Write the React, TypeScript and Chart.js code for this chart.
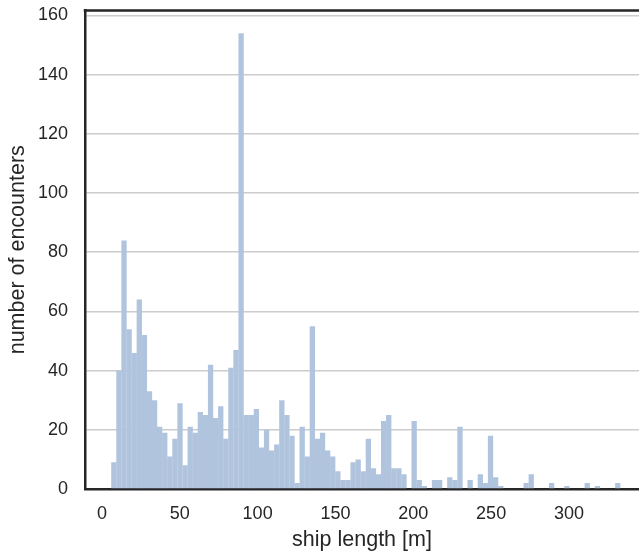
import React, { useEffect, useRef } from "react";
import { Chart, registerables } from "chart.js";

Chart.register(...registerables);

// Histogram of ship lengths: 100 bins from binStart with width binWidth
const binStart = 6;
const binWidth = 3.27;
const counts = [
  9, 40, 84, 54, 46, 64, 52, 33, 30, 21,
  19, 11, 17, 29, 8, 21, 19, 26, 25, 42,
  24, 28, 17, 41, 47, 154, 25, 25, 27, 14,
  20, 13, 15, 30, 25, 18, 2, 21, 11, 55,
  17, 19, 13, 11, 6, 3, 3, 9, 10, 6,
  17, 7, 5, 23, 25, 7, 7, 5, 0, 23,
  3, 1, 0, 3, 3, 0, 4, 3, 21, 0,
  3, 0, 5, 2, 18, 4, 1, 0, 0, 0,
  0, 2, 5, 0, 0, 0, 2, 0, 0, 1,
  0, 0, 0, 2, 0, 1, 0, 0, 0, 2,
];
const xTickStep = 50;
const yTickStep = 20;
const xLabel = "ship length [m]";
const yLabel = "number of encounters";

const TEXT = "#262626";
const FONT = "'Liberation Sans', Arial, sans-serif";

const topSpine = {
  id: "topSpine",
  afterDraw(chart: any) {
    const { ctx, chartArea } = chart;
    ctx.save();
    ctx.strokeStyle = TEXT;
    ctx.lineWidth = 2.5;
    ctx.beginPath();
    ctx.moveTo(chartArea.left - 1.25, chartArea.top);
    ctx.lineTo(chartArea.right, chartArea.top);
    ctx.stroke();
    ctx.restore();
  },
};

export default function App() {
  const ref = useRef<HTMLCanvasElement | null>(null);
  useEffect(() => {
    if (!ref.current) return;
    const points = counts.map((c, i) => ({ x: binStart + binWidth * (i + 0.5), y: c }));
    const chart = new Chart(ref.current, {
      type: "bar",
      data: {
        datasets: [
          {
            data: points as any,
            backgroundColor: "#b0c4de",
            borderWidth: 0,
            barPercentage: 1.04,
            categoryPercentage: 1,
          },
        ],
      },
      options: {
        animation: false,
        responsive: false,
        maintainAspectRatio: false,
        layout: { padding: { top: 10.5, right: 0, left: 0, bottom: 0 } },
        plugins: { legend: { display: false }, tooltip: { enabled: false } },
        scales: {
          x: {
            type: "linear",
            offset: false,
            min: -10.9,
            max: 345,
            afterFit: (s: any) => {
              s.height = 66;
              s.paddingLeft = 0;
              s.paddingRight = 0;
            },
            ticks: {
              stepSize: xTickStep,
              includeBounds: false,
              padding: 14,
              color: TEXT,
              font: { family: FONT, size: 18 },
            },
            grid: { display: false, drawTicks: false, offset: false },
            border: { display: true, color: TEXT, width: 2.5 },
            title: {
              display: true,
              text: xLabel,
              color: TEXT,
              font: { family: FONT, size: 21.5 },
              padding: { top: 0, bottom: 2 },
            },
          },
          y: {
            min: 0,
            max: 161.7,
            afterFit: (s: any) => {
              s.width = 85;
              s.paddingTop = 0;
              s.paddingBottom = 0;
            },
            ticks: {
              stepSize: yTickStep,
              includeBounds: false,
              padding: 17,
              color: TEXT,
              font: { family: FONT, size: 18 },
            },
            grid: { color: "#cccccc", lineWidth: 1.6, drawTicks: false },
            border: { display: true, color: TEXT, width: 2.5 },
            title: {
              display: true,
              text: yLabel,
              color: TEXT,
              font: { family: FONT, size: 21.5 },
              padding: { top: 5.5, bottom: 0 },
            },
          },
        },
      },
      plugins: [topSpine],
    });
    return () => chart.destroy();
  }, []);
  return (
    <div style={{ position: "absolute", left: 0, top: 0, width: 639, height: 555, background: "#fff" }}>
      <canvas ref={ref} width={639} height={555} style={{ display: "block" }} />
    </div>
  );
}
